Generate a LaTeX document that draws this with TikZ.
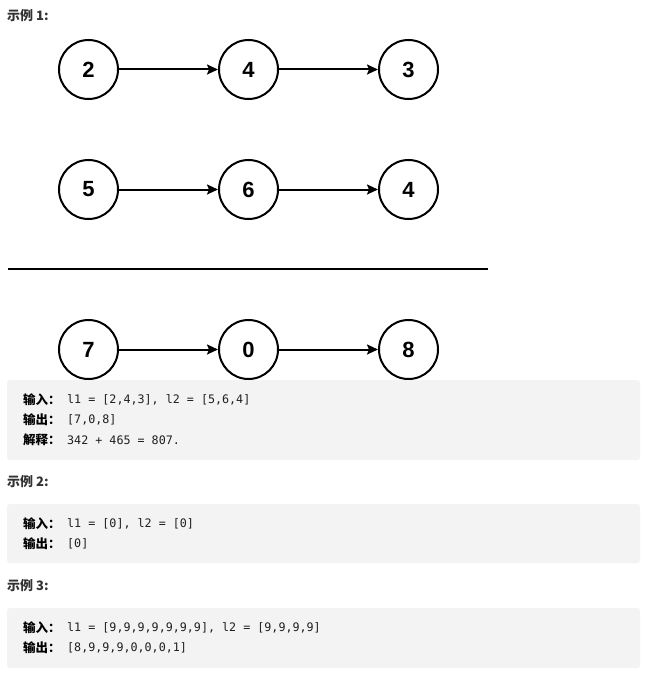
\documentclass[tikz,border=0pt]{standalone}
\usepackage{fontspec}
\setmainfont{Liberation Sans}
\newfontfamily\cjk{Noto Sans CJK SC}
\newfontfamily\codefont{DejaVu Sans Mono}
\usetikzlibrary{arrows.meta}
\definecolor{boxgray}{HTML}{F3F3F3}
\definecolor{txt}{HTML}{1F1F1F}
\definecolor{headtxt}{HTML}{333333}
\begin{document}
\begin{tikzpicture}[x=1pt,y=-1pt,
  listnode/.style={circle,draw,line width=2pt,minimum size=59pt,inner sep=0pt,
    font=\fontsize{22}{26}\selectfont\bfseries},
  link/.style={line width=2pt,-{Stealth[length=11pt,width=10pt,inset=2pt]}},
  codebox/.style={fill=boxgray,rounded corners=3pt},
  heading/.style={anchor=west,inner sep=0pt,text=headtxt,
    font=\cjk\bfseries\fontsize{13}{15}\selectfont},
  keytext/.style={anchor=west,inner sep=0pt,text=black,
    font=\cjk\bfseries\fontsize{12.5}{15}\selectfont},
  codetext/.style={anchor=west,inner sep=0pt,text=txt,
    font=\codefont\fontsize{11.7}{14}\selectfont}]
\fill[white] (0,0) rectangle (660,690);
\useasboundingbox (0,0) rectangle (660,690);

\node[heading] (h1) at (7,16) {示例 1:};

% list rows
\node[listnode] (a1) at (88.5,69.5) {2};
\node[listnode] (a2) at (248.5,69.5) {4};
\node[listnode] (a3) at (408.5,69.5) {3};
\node[listnode] (b1) at (88.5,189.5) {5};
\node[listnode] (b2) at (248.5,189.5) {6};
\node[listnode] (b3) at (408.5,189.5) {4};
\node[listnode] (c1) at (88.5,349.5) {7};
\node[listnode] (c2) at (248.5,349.5) {0};
\node[listnode] (c3) at (408.5,349.5) {8};

\draw[link] (a1) -- (a2);
\draw[link] (a2) -- (a3);
\draw[link] (b1) -- (b2);
\draw[link] (b2) -- (b3);
\draw[link] (c1) -- (c2);
\draw[link] (c2) -- (c3);

\coordinate (sepL) at (8,268.5);
\coordinate (sepR) at (488,268.5);
\draw[line width=2pt] (sepL) -- (sepR);

% box 1
\fill[codebox] (7,380) rectangle (640,460);
\node[keytext] (k11) at (23,400) {输入：};
\node[codetext] (v11) at (67,400) {l1 = [2,4,3], l2 = [5,6,4]};
\node[keytext] (k12) at (23,420) {输出：};
\node[codetext] (v12) at (67,420) {[7,0,8]};
\node[keytext] (k13) at (23,440) {解释：};
\node[codetext] (v13) at (67,440) {342 + 465 = 807.};

% example 2
\node[heading] (h2) at (7,482) {示例 2:};
\fill[codebox] (7,504) rectangle (640,563);
\node[keytext] (k21) at (23,523.5) {输入：};
\node[codetext] (v21) at (67,523.5) {l1 = [0], l2 = [0]};
\node[keytext] (k22) at (23,543.5) {输出：};
\node[codetext] (v22) at (67,543.5) {[0]};

% example 3
\node[heading] (h3) at (7,586) {示例 3:};
\fill[codebox] (7,608) rectangle (640,668);
\node[keytext] (k31) at (23,628) {输入：};
\node[codetext] (v31) at (67,628) {l1 = [9,9,9,9,9,9,9], l2 = [9,9,9,9]};
\node[keytext] (k32) at (23,648) {输出：};
\node[codetext] (v32) at (67,648) {[8,9,9,9,0,0,0,1]};
\end{tikzpicture}
\end{document}
